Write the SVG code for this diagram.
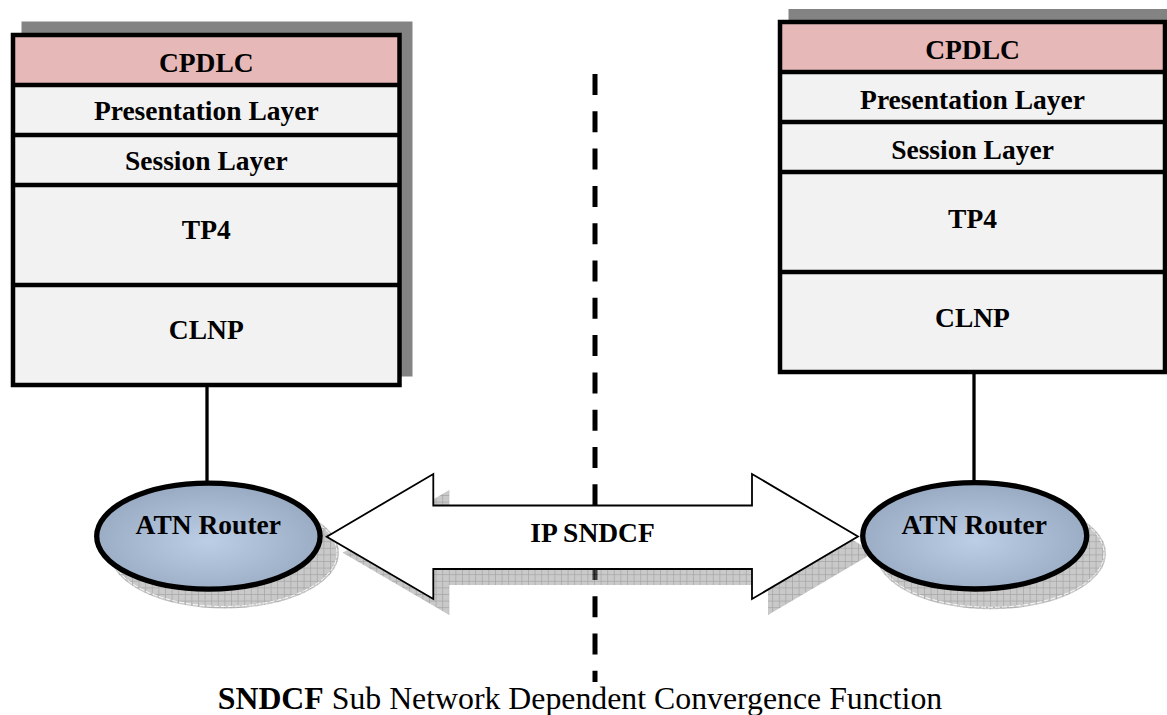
<svg xmlns="http://www.w3.org/2000/svg" width="1167" height="715" viewBox="0 0 1167 715">
  <style>
    .lbl { font-family: "Liberation Serif", "Times New Roman", serif; font-weight: bold; font-size: 27.5px; fill: #000; text-anchor: middle; }
    .cap { font-family: "Liberation Serif", "Times New Roman", serif; font-size: 31.8px; fill: #000; text-anchor: middle; }
    .boxshadow { fill: #838383; }
    .layer { fill: #f2f2f2; }
    .top { fill: #e6b8b7; }
    .frame { fill: none; stroke: #000; stroke-width: 4.5; }
    .div { stroke: #000; stroke-width: 4.3; }
    .link { stroke: #000; stroke-width: 3.3; }
    .router { fill: url(#rg); stroke: #000; stroke-width: 5.3; }
    .hatch { fill: url(#hatch); }
    .shline { fill: none; stroke: #fff; stroke-width: 0.9; stroke-dasharray: 5 2; }
  </style>
  <defs>
    <radialGradient id="rg" cx="50%" cy="55%" r="55%">
      <stop offset="0" stop-color="#bccde6"/>
      <stop offset="1" stop-color="#98a9c2"/>
    </radialGradient>
    <pattern id="hatch" width="6.6" height="6.6" patternUnits="userSpaceOnUse">
      <rect width="6.6" height="6.6" fill="#8a8a8a"/>
      <path d="M0,0.4 H6.6 M0.4,0 V6.6" stroke="#3a3a3a" stroke-width="0.8"/>
    </pattern>
  </defs>

  <!-- left stack -->
  <g id="left-stack">
    <rect class="boxshadow" x="21.5" y="21.5" width="391" height="355"/>
    <rect class="top" x="13" y="35" width="386.5" height="50"/>
    <rect class="layer" x="13" y="85" width="386.5" height="300"/>
    <line class="div" x1="13" y1="85" x2="399.5" y2="85"/>
    <line class="div" x1="13" y1="135" x2="399.5" y2="135"/>
    <line class="div" x1="13" y1="185" x2="399.5" y2="185"/>
    <line class="div" x1="13" y1="285" x2="399.5" y2="285"/>
    <rect class="frame" x="13" y="35" width="386.5" height="350"/>
    <text class="lbl" x="206.3" y="72">CPDLC</text>
    <text class="lbl" x="206.3" y="120">Presentation Layer</text>
    <text class="lbl" x="206.3" y="170">Session Layer</text>
    <text class="lbl" x="206.3" y="239">TP4</text>
    <text class="lbl" x="206.3" y="339">CLNP</text>
  </g>

  <!-- right stack -->
  <g id="right-stack">
    <rect class="boxshadow" x="788.5" y="9" width="391" height="355"/>
    <rect class="top" x="780" y="22" width="385" height="50"/>
    <rect class="layer" x="780" y="72" width="385" height="300"/>
    <line class="div" x1="780" y1="72" x2="1165" y2="72"/>
    <line class="div" x1="780" y1="122" x2="1165" y2="122"/>
    <line class="div" x1="780" y1="172" x2="1165" y2="172"/>
    <line class="div" x1="780" y1="272" x2="1165" y2="272"/>
    <rect class="frame" x="780" y="22" width="385" height="350"/>
    <text class="lbl" x="972.5" y="59">CPDLC</text>
    <text class="lbl" x="972.5" y="109">Presentation Layer</text>
    <text class="lbl" x="972.5" y="159">Session Layer</text>
    <text class="lbl" x="972.5" y="228">TP4</text>
    <text class="lbl" x="972.5" y="327">CLNP</text>
  </g>

  <!-- connectors -->
  <g id="connectors">
    <line class="link" x1="207" y1="386" x2="207" y2="483"/>
    <line class="link" x1="974" y1="373" x2="974" y2="482"/>
    <line x1="595" y1="74" x2="595" y2="682" stroke="#000" stroke-width="5" stroke-dasharray="21 16.3"/>
    <g opacity="0.45">
      <path class="hatch" d="M342.7,552.7 L449.3,490 L449.3,521.5 L768,521.5 L768,490 L874,552.5 L768,615 L768,585 L449.3,585 L449.3,615 Z"/>
      <ellipse class="hatch" cx="224.5" cy="553" rx="114.5" ry="55.5"/>
      <ellipse class="hatch" cx="991" cy="553.5" rx="115" ry="55.8"/>
    </g>
    <ellipse class="shline" cx="224.5" cy="553" rx="112.5" ry="53.5"/>
    <ellipse class="shline" cx="991" cy="553.5" rx="113" ry="53.8"/>
    <g id="ip-sndcf">
      <path d="M326.7,536.7 L433.3,474 L433.3,505.5 L752,505.5 L752,474 L858,536.5 L752,599 L752,569 L433.3,569 L433.3,599 Z" fill="#fff" stroke="#000" stroke-width="1.8" stroke-linejoin="miter"/>
      <text class="lbl" x="592.5" y="542">IP SNDCF</text>
    </g>
  </g>

  <!-- routers -->
  <g id="router-left">
    <ellipse class="router" cx="208.4" cy="536.2" rx="111.7" ry="53"/>
    <text class="lbl" x="208.3" y="534">ATN Router</text>
  </g>
  <g id="router-right">
    <ellipse class="router" cx="974.7" cy="535.8" rx="112" ry="53.2"/>
    <text class="lbl" x="974.2" y="534">ATN Router</text>
  </g>

  <!-- caption -->
  <g id="caption">
    <text class="cap" x="580" y="709"><tspan font-weight="bold">SNDCF</tspan> Sub Network Dependent Convergence Function</text>
  </g>
</svg>
